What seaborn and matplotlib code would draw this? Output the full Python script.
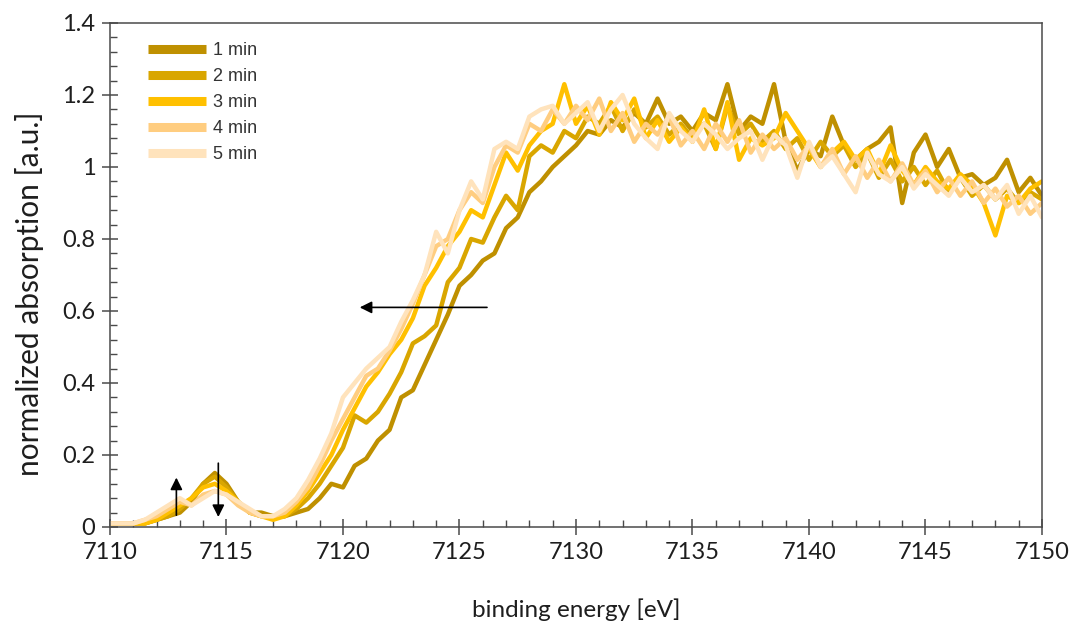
import numpy as np
import pandas as pd
import matplotlib
matplotlib.use("Agg")
import matplotlib.pyplot as plt
from matplotlib.ticker import MultipleLocator, FuncFormatter
import seaborn as sns

# ---------------- data ----------------
energy = [7110 + 0.5 * i for i in range(81)]

labels = ["1 min", "2 min", "3 min", "4 min", "5 min"]
colors = ["#BF9000", "#D9A600", "#FFC000", "#FFCD80", "#FFE3BC"]

min1 = [0.01, 0.01, 0.01, 0.01, 0.02, 0.03, 0.04, 0.07, 0.12, 0.15,
        0.12, 0.07, 0.04, 0.04, 0.03, 0.03, 0.04, 0.05, 0.08, 0.12,
        0.11, 0.17, 0.19, 0.24, 0.27, 0.36, 0.38, 0.45, 0.52, 0.59,
        0.67, 0.70, 0.74, 0.76, 0.83, 0.86, 0.93, 0.96, 1.00, 1.03,
        1.06, 1.10, 1.09, 1.13, 1.11, 1.15, 1.12, 1.19, 1.12, 1.14,
        1.10, 1.15, 1.13, 1.23, 1.10, 1.14, 1.12, 1.23, 1.07, 0.99,
        1.05, 1.03, 1.14, 1.06, 1.02, 1.05, 1.07, 1.11, 0.90, 1.04,
        1.09, 1.00, 1.05, 0.97, 0.98, 0.95, 0.97, 1.02, 0.93, 0.97,
        0.92]
min2 = [0.01, 0.01, 0.01, 0.01, 0.02, 0.03, 0.05, 0.08, 0.12, 0.14,
        0.11, 0.07, 0.04, 0.03, 0.03, 0.03, 0.05, 0.08, 0.12, 0.17,
        0.22, 0.31, 0.29, 0.32, 0.37, 0.43, 0.51, 0.53, 0.56, 0.68,
        0.72, 0.80, 0.79, 0.86, 0.92, 0.88, 1.03, 1.06, 1.04, 1.10,
        1.08, 1.14, 1.12, 1.17, 1.10, 1.16, 1.11, 1.14, 1.09, 1.12,
        1.08, 1.12, 1.05, 1.17, 1.09, 1.12, 1.07, 1.10, 1.05, 1.08,
        1.02, 1.07, 1.03, 1.06, 1.00, 1.04, 0.97, 1.02, 0.96, 1.00,
        0.95, 0.99, 0.93, 0.97, 0.92, 0.95, 0.91, 0.94, 0.90, 0.93,
        0.91]
min3 = [0.01, 0.01, 0.01, 0.01, 0.02, 0.04, 0.06, 0.08, 0.11, 0.12,
        0.10, 0.07, 0.04, 0.03, 0.02, 0.03, 0.06, 0.10, 0.15, 0.20,
        0.27, 0.33, 0.39, 0.43, 0.48, 0.52, 0.58, 0.67, 0.72, 0.78,
        0.82, 0.88, 0.86, 0.95, 1.04, 0.99, 1.06, 1.10, 1.12, 1.23,
        1.12, 1.17, 1.09, 1.18, 1.13, 1.19, 1.08, 1.13, 1.07, 1.11,
        1.07, 1.16, 1.05, 1.18, 1.02, 1.08, 1.06, 1.08, 1.15, 1.10,
        1.05, 1.00, 1.04, 1.07, 1.02, 1.05, 0.98, 1.06, 0.99, 0.95,
        1.00, 0.96, 0.94, 0.98, 0.95, 0.90, 0.81, 0.92, 0.90, 0.94,
        0.96]
min4 = [0.01, 0.01, 0.01, 0.02, 0.03, 0.05, 0.07, 0.06, 0.09, 0.10,
        0.09, 0.06, 0.04, 0.03, 0.03, 0.04, 0.07, 0.11, 0.17, 0.24,
        0.30, 0.36, 0.42, 0.44, 0.49, 0.55, 0.62, 0.70, 0.78, 0.80,
        0.88, 0.93, 0.90, 1.00, 1.06, 1.04, 1.12, 1.10, 1.16, 1.12,
        1.17, 1.13, 1.19, 1.10, 1.15, 1.07, 1.12, 1.09, 1.14, 1.06,
        1.10, 1.05, 1.12, 1.07, 1.13, 1.04, 1.09, 1.05, 1.08, 1.02,
        1.06, 1.00, 1.05, 0.98, 1.03, 0.97, 1.02, 0.96, 1.01, 0.95,
        0.99, 0.93, 0.97, 0.92, 0.96, 0.90, 0.94, 0.89, 0.92, 0.87,
        0.90]
min5 = [0.01, 0.01, 0.01, 0.02, 0.04, 0.06, 0.08, 0.06, 0.08, 0.10,
        0.09, 0.07, 0.05, 0.03, 0.03, 0.05, 0.08, 0.13, 0.19, 0.26,
        0.36, 0.40, 0.44, 0.47, 0.50, 0.57, 0.63, 0.70, 0.82, 0.76,
        0.88, 0.96, 0.91, 1.05, 1.07, 1.05, 1.14, 1.16, 1.17, 1.12,
        1.15, 1.18, 1.10, 1.16, 1.20, 1.12, 1.08, 1.05, 1.15, 1.10,
        1.07, 1.12, 1.09, 1.05, 1.08, 1.10, 1.02, 1.09, 1.06, 0.97,
        1.07, 1.00, 1.03, 0.98, 0.93, 1.04, 0.98, 0.96, 1.00, 0.94,
        0.98, 0.95, 0.92, 0.97, 0.93, 0.95, 0.91, 0.95, 0.87, 0.92,
        0.86]

xticks = [7110, 7115, 7120, 7125, 7130, 7135, 7140, 7145, 7150]
yticks = [0, 0.2, 0.4, 0.6, 0.8, 1.0, 1.2, 1.4]

series = [min1, min2, min3, min4, min5]
df = pd.concat(
    [pd.DataFrame({"energy": energy, "absorption": s, "time": lab})
     for s, lab in zip(series, labels)],
    ignore_index=True)

# ---------------- style ----------------
sns.set_style("white")
plt.rcParams["font.family"] = ["Lato", "DejaVu Sans"]

fig = plt.figure(figsize=(10.76, 6.23), dpi=100)
ax = fig.add_axes([0.1022, 0.1541, 0.9684 - 0.1022, 0.9631 - 0.1541])

sns.lineplot(data=df, x="energy", y="absorption", hue="time",
             hue_order=labels, palette=colors, linewidth=3.2,
             ax=ax, legend=True, sort=False, estimator=None)
for line in ax.get_lines():
    line.set_solid_joinstyle("round")
    line.set_solid_capstyle("round")

ax.set_xlim(7110, 7150)
ax.set_ylim(0, 1.4)
ax.set_xticks(xticks)
ax.set_yticks(yticks)
ax.xaxis.set_minor_locator(MultipleLocator(1))
ax.yaxis.set_minor_locator(MultipleLocator(0.04))
ax.yaxis.set_major_formatter(FuncFormatter(lambda v, p: f"{v:g}"))

spine_col = "#4a4a4a"
for s in ax.spines.values():
    s.set_color(spine_col)
    s.set_linewidth(1.1)
ax.tick_params(axis="both", which="major", direction="inout", length=11,
               width=1.1, color=spine_col, labelsize=17,
               labelcolor="#1e1e1e", bottom=True, left=True, top=False,
               right=False, pad=5)
ax.tick_params(axis="both", which="minor", direction="in", length=5,
               width=1.0, color=spine_col, bottom=True, left=True,
               top=False, right=False)

ax.set_xlabel("binding energy [eV]", fontsize=17.5, color="#1e1e1e",
              labelpad=26)
ax.set_ylabel("normalized absorption [a.u.]", fontsize=21.5,
              color="#1e1e1e")
ax.yaxis.set_label_coords(-0.071, 0.463)

leg = ax.legend(loc="upper left", bbox_to_anchor=(0.0408, 0.962),
                frameon=False, handlelength=3.2, labelspacing=0.5,
                borderpad=0, borderaxespad=0, handletextpad=0.4,
                prop={"family": ["Liberation Sans"], "size": 13})
for l in leg.get_lines():
    l.set_linewidth(6.5)
    l.set_solid_capstyle("butt")
for t in leg.get_texts():
    t.set_color("#333333")

arrow = dict(arrowstyle="-|>", color="black", lw=1.2, mutation_scale=18)
ax.annotate("", xy=(7112.85, 0.145), xytext=(7112.85, 0.025),
            arrowprops=arrow)
ax.annotate("", xy=(7114.65, 0.02), xytext=(7114.65, 0.185),
            arrowprops=arrow)
ax.annotate("", xy=(7120.6, 0.61), xytext=(7126.3, 0.61),
            arrowprops=arrow)

fig.savefig("out.png", dpi=100)
